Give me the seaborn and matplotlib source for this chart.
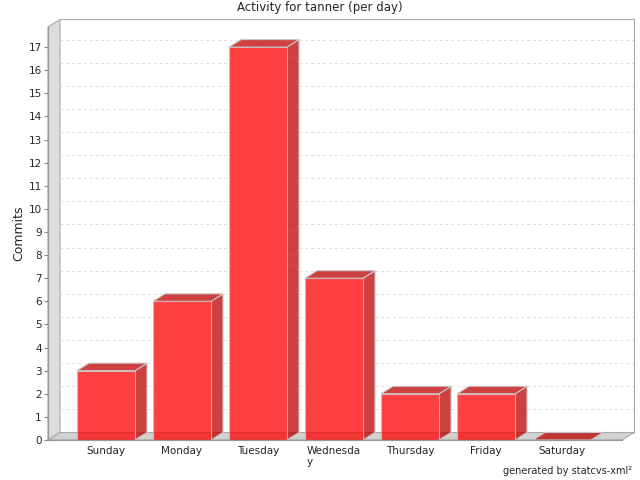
import numpy as np
import matplotlib
matplotlib.use("Agg")
import matplotlib.pyplot as plt
from matplotlib.patches import Polygon, Rectangle
import seaborn as sns

days = ["Sunday", "Monday", "Tuesday", "Wednesda\ny", "Thursday", "Friday", "Saturday"]
commits = [3, 6, 17, 7, 2, 2, 0]
y_ticks = list(range(0, 18))

FRONT = (1.0, 0.0, 0.0)
SIDE = (0.75, 0.0, 0.0, 0.75)
EDGE = "#c8c8c8"
WALL = "#dcdcdc"
FLOOR = "#d2d2d2"
OUTLINE = "#a8a8a8"

sns.set_style("white")
plt.rcParams["font.family"] = ["DejaVu Sans"]

fig = plt.figure(figsize=(6.4, 4.8), dpi=100)
# front plane of the 3d plot, in pixels: x 48..622, y 27..440 (from top)
ax = fig.add_axes([48 / 640, 40 / 480, 574 / 640, 413 / 480])

sns.barplot(x=days, y=commits, color=FRONT, saturation=1, width=0.763,
            alpha=0.75, edgecolor=EDGE, linewidth=0.8, ax=ax, zorder=2)
bars = [p for p in ax.patches if isinstance(p, Rectangle)]

XL, XR = -0.763, 6.789
YT = 17.87
ax.set_xlim(XL, XR)
ax.set_ylim(0, YT)

# depth offsets (12 px right, 7.5 px up) converted to data units
DX = 12 / (574 / (XR - XL))
DY = 7.5 / (413 / YT)

# left wall and floor
ax.add_patch(Polygon([(XL, 0), (XL, YT), (XL + DX, YT + DY), (XL + DX, DY)],
                     closed=True, fc=WALL, ec=OUTLINE, lw=0.8, clip_on=False, zorder=0.5))
ax.add_patch(Polygon([(XL, 0), (XR, 0), (XR + DX, DY), (XL + DX, DY)],
                     closed=True, fc=FLOOR, ec=OUTLINE, lw=0.8, clip_on=False, zorder=0.6))
# back wall outline
ax.plot([XL + DX, XR + DX, XR + DX], [YT + DY, YT + DY, DY],
        color=OUTLINE, lw=0.8, clip_on=False, zorder=0.5)

# dashed gridlines on back wall and across left wall
for v in y_ticks[1:]:
    ax.plot([XL + DX, XR + DX], [v + DY, v + DY], color="#dddddd", lw=0.7,
            ls=(0, (3, 3)), clip_on=False, zorder=0.4)
    ax.plot([XL, XL + DX], [v, v + DY], color="#e8e8e8", lw=0.7,
            ls=(0, (2, 2)), clip_on=False, zorder=0.7)

# 3d top and side faces of every bar
for p in bars:
    x0, w, h = p.get_x(), p.get_width(), p.get_height()
    top = [(x0, h), (x0 + w, h), (x0 + w + DX, h + DY), (x0 + DX, h + DY)]
    side = [(x0 + w, 0), (x0 + w, h), (x0 + w + DX, h + DY), (x0 + w + DX, DY)]
    ax.add_patch(Polygon(side, closed=True, fc=SIDE, ec=EDGE, lw=0.8, zorder=1.9, clip_on=False))
    ax.add_patch(Polygon(top, closed=True, fc=SIDE, ec=EDGE, lw=0.8, zorder=1.9, clip_on=False))

ax.set_yticks(y_ticks)
ax.tick_params(axis="y", labelsize=7.5, length=3, width=0.8, color="#888888", pad=1.5, left=True)
ax.tick_params(axis="x", labelsize=7.5, length=0, pad=4)
for lbl in ax.get_xticklabels():
    lbl.set_multialignment("left")
for s in ["top", "right"]:
    ax.spines[s].set_visible(False)
for s in ["left", "bottom"]:
    ax.spines[s].set_color("#999999")
    ax.spines[s].set_linewidth(0.9)
    ax.spines[s].set_zorder(3)

ax.set_xlabel("")
ax.set_ylabel("Commits", fontsize=9)
ax.yaxis.set_label_coords(-23 / 574, 0.5)
fig.text(320 / 640, 1 - 8 / 480, "Activity for tanner (per day)", ha="center", va="center", fontsize=8.5)
fig.text(632 / 640, 1 - 471 / 480, "generated by statcvs-xml\u00b2", ha="right", va="center", fontsize=7)

fig.savefig("out.png", dpi=100)
